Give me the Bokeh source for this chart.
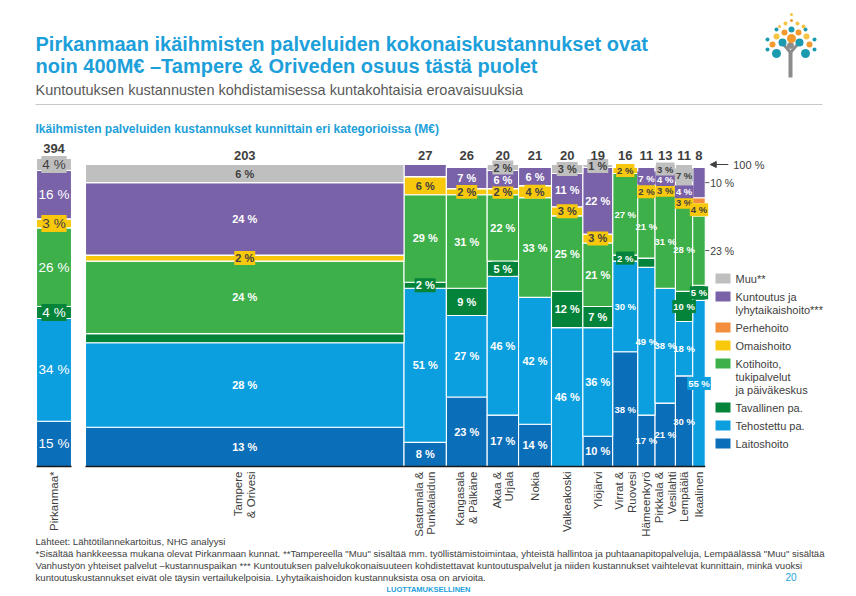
import numpy as np
from bokeh.plotting import figure
from bokeh.models import ColumnDataSource, Range1d, Label, Arrow, NormalHead
from bokeh.core.properties import value
from bokeh.embed import file_html
from bokeh.resources import INLINE

# ---------------- data ----------------
municipalities = ["Pirkanmaa*", "Tampere\n& Orivesi", "Sastamala &\nPunkalaidun", "Kangasala\n& Pälkäne",
                  "Akaa &\nUrjala", "Nokia", "Valkeakoski", "Ylöjärvi", "Virrat &\nRuovesi", "Hämeenkyrö",
                  "Pirkkala &\nVesilahti", "Lempäälä", "Ikaalinen"]
totals_meur = [394, 203, 27, 26, 20, 21, 20, 19, 16, 11, 13, 11, 8]

laitoshoito = [15, 13, 8, 23, 17, 14, 0, 10, 38, 17, 21, 30, 0]
tehostettu = [34, 28, 51, 27, 46, 42, 46, 36, 30, 49, 38, 18, 55]
tavallinen = [4, 3, 2, 9, 5, 0, 12, 7, 2, 3, 0, 10, 5]
kotihoito = [26, 24, 29, 31, 22, 33, 25, 21, 27, 21, 31, 28, 23]
omaishoito = [3, 2, 6, 2, 2, 4, 3, 3, 2, 2, 3, 3, 4]
perhehoito = [0, 0, 0, 0, 0, 0, 0, 0, 0, 0, 0, 0, 2]
kuntoutus = [16, 24, 4, 7, 6, 6, 11, 22, 0, 7, 4, 4, 10]
muu = [4, 6, 0, 0, 2, 0, 3, 1, 0, 0, 3, 7, 0]

categories = ["Laitoshoito", "Tehostettu pa.", "Tavallinen pa.", "Kotihoito", "Omaishoito",
              "Perhehoito", "Kuntoutus", "Muu"]
legend_labels = ["Laitoshoito", "Tehostettu pa.", "Tavallinen pa.", "Kotihoito,\ntukipalvelut\nja päiväkeskus",
                 "Omaishoito", "Perhehoito", "Kuntoutus ja\nlyhytaikaishoito***", "Muu**"]
series = [laitoshoito, tehostettu, tavallinen, kotihoito, omaishoito, perhehoito, kuntoutus, muu]

# labels not drawn inside the bars / drawn beside the last bar
hidden_labels = [("Tampere\n& Orivesi", "Tavallinen pa."), ("Sastamala &\nPunkalaidun", "Kuntoutus"),
                 ("Hämeenkyrö", "Tavallinen pa."), ("Ikaalinen", "Perhehoito")]
side_labels = [("Ikaalinen", "Kuntoutus"), ("Ikaalinen", "Kotihoito")]

# ---------------- style ----------------
colors = {"Laitoshoito": "#0B6EB9", "Tehostettu pa.": "#0C9FE0", "Tavallinen pa.": "#04843A",
          "Kotihoito": "#3DB04A", "Omaishoito": "#F8C80D", "Perhehoito": "#F28E3C",
          "Kuntoutus": "#7A62A8", "Muu": "#BFBFBF"}
dark_text = {"Omaishoito", "Muu", "Perhehoito"}
BLUE = "#1D9FDA"
GREY = "#404040"
SANS = "Liberation Sans"

W, H = 856, 596
PX_PER_MEUR = 1.569
PX_PER_PCT = 3.02
ORIGIN_X_PX = 85
BASE_Y_PX = 466
PIRK_W_PX = 35
GAP_PX = 14

x0 = -ORIGIN_X_PX / PX_PER_MEUR
x1 = x0 + W / PX_PER_MEUR
y0 = -(H - BASE_Y_PX) / PX_PER_PCT
y1 = y0 + H / PX_PER_PCT

def dx(px):
    return px / PX_PER_MEUR

def dy(px):
    return px / PX_PER_PCT

def X(px):
    return x0 + px / PX_PER_MEUR

def Y(py):
    return y1 - py / PX_PER_PCT

p = figure(width=W, height=H, x_range=Range1d(x0, x1), y_range=Range1d(y0, y1),
           output_backend="svg", toolbar_location=None, min_border=0,
           x_axis_location=None, y_axis_location=None, outline_line_color=None)
p.grid.visible = False
p.background_fill_color = "white"

# column geometry
lefts, rights = [], []
pirk_w = dx(PIRK_W_PX)
lefts.append(-dx(GAP_PX) - pirk_w)
rights.append(-dx(GAP_PX))
cum = 0.0
for t in totals_meur[1:]:
    lefts.append(cum)
    rights.append(cum + t)
    cum += t
centers = [(l + r) / 2 for l, r in zip(lefts, rights)]
widths_px = [(r - l) * PX_PER_MEUR for l, r in zip(lefts, rights)]

# stacked segments
bottoms = np.zeros(len(municipalities))
lab = dict(x=[], y=[], text=[], color=[], bg=[], alpha=[], size=[], style=[])
seg_mid = {}
for cat, vals in zip(categories, series):
    vals = np.array(vals, dtype=float)
    tops = bottoms + vals
    src = ColumnDataSource(dict(left=lefts, right=rights, bottom=bottoms.copy(), top=tops))
    p.quad(left="left", right="right", bottom="bottom", top="top", source=src,
           fill_color=colors[cat], line_color="white", line_width=1.1)
    for i, m in enumerate(municipalities):
        seg_mid[(m, cat)] = (bottoms[i] + tops[i]) / 2
        if vals[i] <= 0 or (m, cat) in hidden_labels or (m, cat) in side_labels:
            continue
        lab["x"].append(centers[i])
        lab["y"].append((bottoms[i] + tops[i]) / 2)
        lab["text"].append(f"{int(vals[i])} %")
        lab["color"].append(GREY if cat in dark_text else "white")
        lab["bg"].append(colors[cat])
        boxed = vals[i] <= 12 or i == len(municipalities) - 1
        lab["alpha"].append(1.0 if boxed else 0.0)
        if i == 0:
            lab["size"].append("13.5px"); lab["style"].append("normal")
        elif widths_px[i] >= 29:
            lab["size"].append("11px"); lab["style"].append("bold")
        else:
            lab["size"].append("9.5px"); lab["style"].append("bold")
    bottoms = tops
stack_tops = bottoms

p.text(x="x", y="y", text="text", source=ColumnDataSource(lab), text_color="color",
       text_font_size="size", text_font_style="style", text_font=value(SANS),
       text_align="center", text_baseline="middle",
       background_fill_color="bg", background_fill_alpha="alpha", padding=1)

# baseline
p.segment(x0=[lefts[0], lefts[1]], x1=[rights[0], rights[-1]], y0=[0, 0], y1=[0, 0],
          line_color="#1a1a1a", line_width=1.5)

# totals above columns
p.text(x=centers, y=[max(t, 100) + dy(5) for t in stack_tops], text=[str(t) for t in totals_meur],
       text_font=value(SANS), text_font_size="13px", text_font_style="bold", text_color=GREY,
       text_align="center", text_baseline="bottom")

# rotated municipality labels
p.text(x=centers, y=[-dy(5)] * len(centers), text=municipalities, angle=np.pi / 2,
       text_font=value(SANS), text_font_size="11.5px", text_color=GREY,
       text_align="right", text_baseline="middle", text_line_height=1.05)

# side labels for last column
xr = rights[-1]
for (m, cat) in side_labels:
    yv = seg_mid[(m, cat)]
    i = municipalities.index(m)
    v = series[categories.index(cat)][i]
    p.segment(x0=[xr], x1=[xr + dx(4)], y0=[yv], y1=[yv], line_color="#555555", line_width=1)
    p.text(x=[xr + dx(5)], y=[yv], text=[f"{v} %"], text_font=value(SANS), text_font_size="10.5px",
           text_color=GREY, text_align="left", text_baseline="middle")

# 100 % arrow
p.add_layout(Arrow(end=NormalHead(size=6, fill_color="#404040", line_color="#404040"),
                   x_start=xr + dx(23), y_start=100, x_end=xr + dx(5), y_end=100,
                   line_color="#404040", line_width=1.2))
p.text(x=[xr + dx(28)], y=[100], text=["100 %"], text_font=value(SANS), text_font_size="11px",
       text_color=GREY, text_align="left", text_baseline="middle")

# legend
ly = 278
for cat, lbl in reversed(list(zip(categories, legend_labels))):
    p.quad(left=[X(715)], right=[X(730)], bottom=[Y(ly + 5)], top=[Y(ly - 5)],
           fill_color=colors[cat], line_color=None)
    lines = lbl.split("\n")
    for k, ln in enumerate(lines):
        p.add_layout(Label(x=735, y=H - (ly + 13 * k), x_units="screen", y_units="screen", text=ln,
                           text_font=SANS, text_font_size="11px", text_color=GREY,
                           text_baseline="middle"))
    ly += 18 + 13 * (len(lines) - 1)

# titles
def screen_label(txt, px, py, size, color, font=SANS, style="normal", align="left"):
    p.add_layout(Label(x=px, y=H - py, x_units="screen", y_units="screen", text=txt,
                       text_font=font, text_font_size=size, text_color=color,
                       text_font_style=style, text_baseline="middle", text_align=align))

screen_label("Pirkanmaan ikäihmisten palveluiden kokonaiskustannukset ovat", 35, 43, "20px", BLUE, style="bold")
screen_label("noin 400M€ –Tampere & Oriveden osuus tästä puolet", 35, 65, "20px", BLUE, style="bold")
screen_label("Kuntoutuksen kustannusten kohdistamisessa kuntakohtaisia eroavaisuuksia", 35, 89, "14.5px", "#595959")
screen_label("Ikäihmisten palveluiden kustannukset kunnittain eri kategorioissa (M€)", 35, 128, "12px", BLUE, style="bold")
p.segment(x0=[X(35)], x1=[X(822)], y0=[Y(104)], y1=[Y(104)], line_color="#C8C8C8", line_width=1)

footnotes = [
    "Lähteet: Lähtötilannekartoitus, NHG analyysi",
    "*Sisältää hankkeessa mukana olevat Pirkanmaan kunnat. **Tampereella \"Muu\" sisältää mm. työllistämistoimintaa, yhteistä hallintoa ja puhtaanapitopalveluja,  Lempäälässä \"Muu\" sisältää",
    "Vanhustyön yhteiset palvelut –kustannuspaikan *** Kuntoutuksen palvelukokonaisuuteen kohdistettavat kuntoutuspalvelut ja niiden kustannukset vaihtelevat kunnittain, minkä vuoksi",
    "kuntoutuskustannukset eivät ole täysin vertailukelpoisia. Lyhytaikaishoidon kustannuksista osa on arvioita.",
]
for k, ft in enumerate(footnotes):
    screen_label(ft, 35, 541 + 12 * k, "9.6px", GREY)
screen_label("20", 785, 576, "10px", BLUE)
screen_label("LUOTTAMUKSELLINEN", 428, 589, "7.5px", BLUE, style="bold", align="center")

# logo
p.segment(x0=[X(790)], x1=[X(790)], y0=[Y(50)], y1=[Y(77)], line_color="#8C8C8C", line_width=4)
p.segment(x0=[X(783), X(797)], x1=[X(790), X(790)], y0=[Y(44), Y(44)], y1=[Y(52), Y(52)],
          line_color="#8C8C8C", line_width=3)
p.scatter(x=[X(790)], y=[Y(45)], size=6, color="#8C8C8C")
teal = [(776, 53, 9), (805, 53, 9), (782, 42, 8), (799, 42, 8), (791, 29, 6), (767, 39, 4), (814, 39, 4),
        (767, 49, 4), (814, 49, 4), (776, 29, 4), (805, 29, 4)]
orange = [(791, 38, 9), (772, 44, 6), (809, 44, 6), (784, 32, 6), (798, 32, 6), (791, 20, 3)]
yellow = [(776, 36, 6), (806, 36, 6), (785, 23, 4), (797, 23, 4), (803, 26, 4), (779, 26, 3), (791, 14, 3)]
for pts, c in ((teal, "#1C9BB0"), (orange, "#F29A2E"), (yellow, "#F6C445")):
    p.scatter(x=[X(a) for a, b, s in pts], y=[Y(b) for a, b, s in pts], size=[s for a, b, s in pts],
              color=c, line_color=None)

open("out.html", "w").write(file_html(p, INLINE))
